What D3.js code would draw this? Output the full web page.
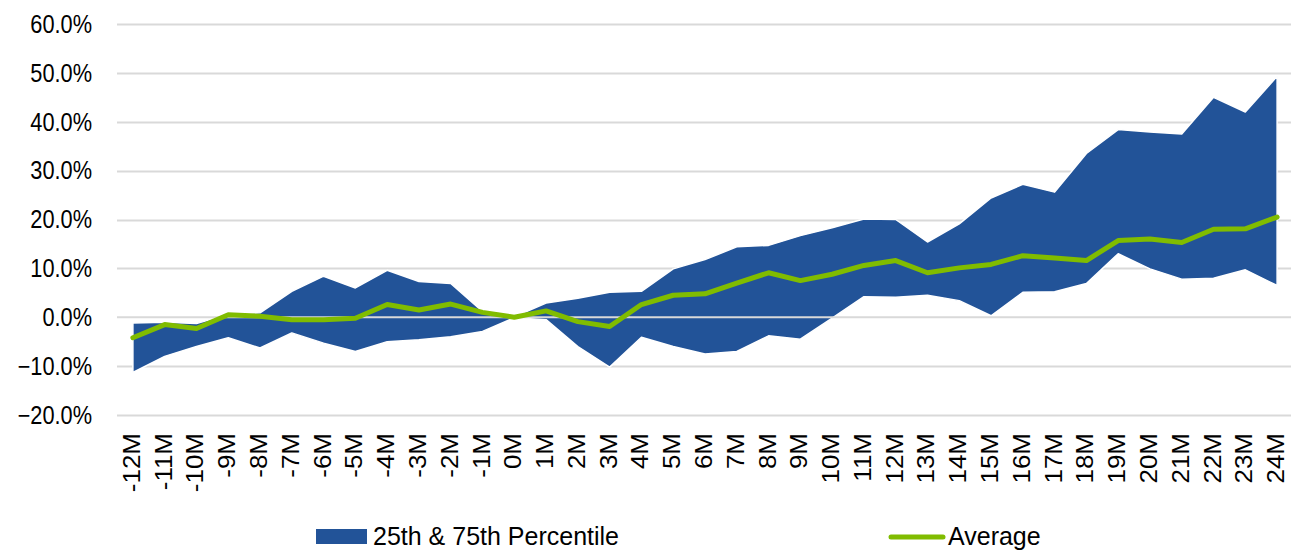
<!DOCTYPE html>
<html>
<head>
<meta charset="utf-8">
<script src="https://cdn.jsdelivr.net/npm/d3@7"></script>
<style>
  body { margin: 0; background: #fff; }
  svg { display: block; font-family: "Liberation Sans", Arial, sans-serif; }
</style>
</head>
<body>
<div id="chart"></div>
<script>
// categories (months relative to event)
const months = ["-12M","-11M","-10M","-9M","-8M","-7M","-6M","-5M","-4M","-3M","-2M","-1M","0M",
  "1M","2M","3M","4M","5M","6M","7M","8M","9M","10M","11M","12M","13M","14M","15M","16M",
  "17M","18M","19M","20M","21M","22M","23M","24M"];

// 75th percentile (%)
const p75 = [-1.2,-1.0,-1.3,0.6,0.9,5.3,8.4,6.0,9.6,7.3,6.9,1.2,0.1,
  2.9,3.9,5.1,5.3,9.9,11.8,14.4,14.7,16.7,18.3,20.1,20.0,15.4,19.1,24.4,27.2,
  25.6,33.5,38.4,37.9,37.5,45.0,42.0,49.3];

// 25th percentile (%)
const p25 = [-11.3,-8.0,-6.0,-4.2,-6.3,-3.2,-5.3,-7.0,-5.0,-4.6,-4.0,-2.9,-0.1,
  -0.5,-6.0,-10.2,-4.1,-6.0,-7.5,-7.0,-3.8,-4.5,-0.2,4.2,4.1,4.5,3.4,0.3,5.1,
  5.2,6.9,13.0,9.9,7.8,8.0,9.7,6.5];

// average (%)
const avg = [-4.2,-1.5,-2.3,0.5,0.2,-0.5,-0.5,-0.2,2.6,1.5,2.7,1.0,0.0,
  1.3,-0.9,-1.9,2.6,4.5,4.8,7.0,9.1,7.5,8.8,10.6,11.6,9.1,10.1,10.8,12.6,
  12.1,11.6,15.7,16.0,15.3,18.0,18.1,20.5];

const yTicks = [-20,-10,0,10,20,30,40,50,60];

const W = 1291, H = 551;
const left = 117, right = 1293;

const svg = d3.select("#chart").append("svg")
  .attr("width", W)
  .attr("height", H);

const x = d3.scaleBand().domain(months).range([left, right]);
const y = d3.scaleLinear().domain([-20, 60]).range([415, 24]);
const cx = d => x(d) + x.bandwidth() / 2;

// gridlines
svg.append("g")
  .selectAll("line")
  .data(yTicks.filter(t => t !== 0))
  .join("line")
  .attr("x1", left).attr("x2", right)
  .attr("y1", d => Math.round(y(d)) + 0.5).attr("y2", d => Math.round(y(d)) + 0.5)
  .attr("stroke", "#d9d9d9").attr("stroke-width", 2);

// percentile band
const band = months.map((m, i) => ({ m, lo: p25[i], hi: p75[i] }));
svg.append("path")
  .datum(band)
  .attr("fill", "#225398")
  .attr("stroke", "#fff")
  .attr("stroke-width", 1.5)
  .attr("stroke-linejoin", "round")
  .attr("d", d3.area()
    .x(d => cx(d.m))
    .y0(d => y(d.lo))
    .y1(d => y(d.hi)));

// zero axis line
svg.append("line")
  .attr("x1", left).attr("x2", right)
  .attr("y1", y(0)).attr("y2", y(0))
  .attr("stroke", "#d9d9d9").attr("stroke-width", 2);

// average line
svg.append("path")
  .datum(months.map((m, i) => ({ m, v: avg[i] })))
  .attr("fill", "none")
  .attr("stroke", "#80bc00")
  .attr("stroke-width", 5)
  .attr("stroke-linejoin", "round")
  .attr("stroke-linecap", "round")
  .attr("d", d3.line()
    .x(d => cx(d.m))
    .y(d => y(d.v)));

// y axis labels (glyphs a bit narrow, like the original)
svg.append("g")
  .selectAll("text")
  .data(yTicks)
  .join("text")
  .attr("transform", d => `translate(92,${y(d)}) scale(0.87,1)`)
  .attr("dy", "0.35em")
  .attr("text-anchor", "end")
  .attr("font-size", 25)
  .attr("fill", "#000")
  .text(d => d3.format(".1f")(d) + "%");

// x axis labels (rotated)
svg.append("g")
  .selectAll("text")
  .data(months)
  .join("text")
  .attr("transform", d => `translate(${cx(d) + 7},433) scale(0.9,1) rotate(-90)`)
  .attr("text-anchor", "end")
  .attr("font-size", 26)
  .attr("fill", "#000")
  .text(d => d);

// legend
const lg = svg.append("g").attr("font-size", 25).attr("fill", "#000");
lg.append("rect")
  .attr("x", 316).attr("y", 529).attr("width", 51).attr("height", 15)
  .attr("fill", "#225398");
lg.append("text").attr("x", 373).attr("y", 545).text("25th & 75th Percentile");
lg.append("line")
  .attr("x1", 891).attr("x2", 943).attr("y1", 537).attr("y2", 537)
  .attr("stroke", "#80bc00").attr("stroke-width", 5).attr("stroke-linecap", "round");
lg.append("text").attr("x", 948).attr("y", 545).text("Average");
</script>
</body>
</html>
